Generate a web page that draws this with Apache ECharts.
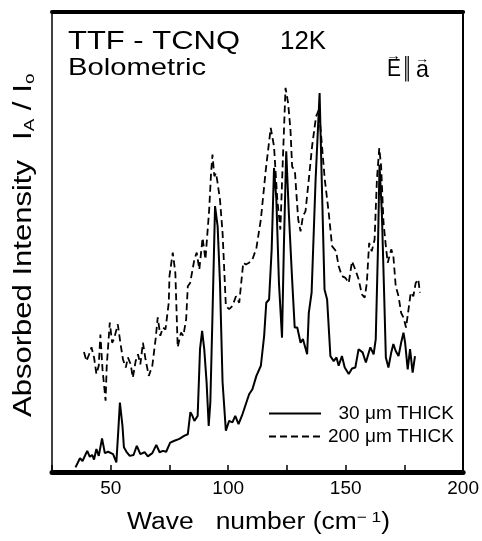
<!DOCTYPE html>
<html><head><meta charset="utf-8">
<script src="https://cdn.jsdelivr.net/npm/echarts@6/dist/echarts.min.js"></script>
<style>html,body{margin:0;padding:0;background:#fff}#c{width:482px;height:541px}</style>
</head><body><div id="c"></div>
<script>
// ---- data (wave number in cm^-1, absorbed intensity in arbitrary units 0-100) ----
const solidX = [35.0,36.9,38.0,40.0,41.1,42.1,42.9,43.9,44.9,46.3,47.5,48.9,51.0,52.4,53.3,53.9,55.0,55.6,56.7,58.1,59.7,61.1,62.6,64.4,65.8,67.7,69.4,70.8,72.2,73.6,75.3,77.1,79.2,81.4,82.8,83.9,84.6,85.6,87.0,88.0,88.9,89.8,90.8,91.7,92.4,93.3,94.4,95.5,96.5,97.6,99.0,100.4,101.8,103.0,104.4,106.1,108.9,110.3,112.0,113.9,115.3,116.2,117.4,118.5,119.5,120.5,121.6,122.9,123.7,124.7,125.8,127.2,128.3,129.4,130.8,131.8,133.6,134.3,135.5,137.2,138.9,139.7,141.0,142.1,143.5,144.9,146.1,147.0,148.4,149.6,151.3,152.7,154.1,155.5,157.2,158.6,160.5,161.9,162.8,163.7,164.4,165.4,166.4,167.1,168.2,169.4,170.3,171.3,172.5,173.6,174.6,175.3,176.4,177.4,178.5,179.5];
const solidY = [1.0,3.0,2.4,4.6,3.3,3.7,2.7,5.0,3.5,7.3,4.1,4.4,3.9,2.1,9.7,15.1,10.0,5.4,4.4,3.5,3.7,5.7,3.9,4.3,3.4,4.1,5.9,4.3,4.6,4.4,6.4,6.8,7.2,7.9,8.2,13.0,12.4,11.1,12.2,26.7,30.7,26.7,19.5,10.0,15.2,33.9,57.8,53.4,41.1,19.5,9.0,11.1,10.8,12.2,10.4,12.6,16.9,18.0,20.9,23.1,29.6,36.8,37.5,48.4,66.1,59.2,41.1,29.2,49.1,69.7,56.3,41.9,31.4,31.4,28.1,28.9,25.6,34.6,39.0,63.6,82.4,65.7,39.7,37.5,25.2,24.1,24.9,23.1,25.2,22.7,21.3,22.5,22.7,26.7,26.0,23.8,27.1,25.6,28.9,47.7,66.8,56.3,38.2,24.9,22.7,26.0,27.8,26.3,25.2,28.1,30.3,28.1,22.3,26.7,21.6,25.2];
const dashX = [38.6,39.7,40.8,41.8,42.9,43.9,44.9,45.6,46.5,47.2,47.8,48.3,48.9,49.6,50.6,51.4,52.1,53.0,54.1,55.2,56.4,57.3,58.5,59.4,60.6,61.6,62.6,63.7,64.8,66.2,67.7,69.1,70.0,71.1,72.2,73.3,74.0,74.7,75.0,76.4,77.5,78.5,79.9,80.9,82.1,82.8,83.8,85.6,86.6,87.7,89.1,90.3,91.9,92.7,93.3,94.1,94.8,95.5,96.5,97.6,99.0,100.4,101.8,103.3,104.7,106.4,107.5,108.9,110.3,112.0,113.9,116.0,118.1,119.5,120.9,122.2,123.1,124.4,125.5,126.5,127.2,128.4,128.9,129.8,130.8,131.8,132.9,134.3,135.7,137.4,138.6,139.7,141.1,142.8,144.2,145.9,147.0,148.4,149.9,151.3,152.7,154.1,155.5,156.9,158.1,159.0,160.0,161.1,162.3,163.3,164.3,165.1,166.1,167.1,167.9,169.4,170.3,171.3,172.5,173.6,174.6,175.7,176.7,177.7,178.8,179.8,180.9,181.6];
const dashY = [26.1,24.1,25.6,27.1,24.9,21.3,23.1,29.9,22.3,18.7,15.5,23.1,27.4,32.5,28.1,28.9,30.3,32.1,28.1,24.5,22.7,24.9,23.4,20.5,24.1,25.6,23.4,28.1,24.5,20.9,23.1,28.9,33.6,29.6,31.4,31.0,33.9,36.8,42.6,47.7,43.3,27.1,30.3,29.6,33.2,40.4,41.1,46.2,47.7,44.0,50.9,46.2,57.0,65.0,69.0,64.3,65.0,62.8,59.2,52.0,36.1,35.4,36.1,38.2,36.8,45.5,45.1,45.5,46.2,48.7,54.9,65.7,74.8,70.8,59.2,52.7,65.7,83.5,80.2,74.4,66.4,65.4,61.4,54.9,52.3,55.6,56.7,63.6,70.8,77.3,78.7,72.2,63.6,56.3,49.1,48.0,44.8,42.6,42.2,41.1,45.8,44.0,41.9,38.6,37.9,41.1,49.8,48.0,50.5,63.6,70.4,66.4,54.2,49.1,45.5,48.4,46.9,40.4,38.2,34.6,33.6,31.4,35.2,39.0,38.2,41.1,41.9,39.0];
const xLabelValues = [50, 100, 150, 200];
const seriesNames = ['30 \u03bcm THICK', '200 \u03bcm THICK'];

const FONT = '"Liberation Sans", Arial, Helvetica, sans-serif';
const ctx = document.createElement('canvas').getContext('2d');
function natW(t, fs) { ctx.font = fs + 'px ' + FONT; return ctx.measureText(t).width; }
function label(text, x, y, fs, w, extra) {
  const el = {
    type: 'text', x: x, y: y, scaleX: w / natW(text, fs),
    style: { text: text, fontSize: fs, fontFamily: FONT, fill: '#000', align: 'left', verticalAlign: 'middle' }
  };
  return Object.assign(el, extra || {});
}

const chart = echarts.init(document.getElementById('c'), null, { renderer: 'canvas' });
const solid = solidX.map((x, i) => [x, solidY[i]]);
const dash = dashX.map((x, i) => [x, dashY[i]]);

const graphic = [
  label('TTF - TCNQ', 68, 42, 25, 172),
  label('12K', 280, 42, 25, 46),
  label('Bolometric', 68, 68, 24, 138),
  label('E', 387, 69, 24, 14),
  label('\u2225', 403, 69, 26, 8),
  label('a', 416, 70, 24, 13),
  label('\u2192', 386, 56, 14, 15),
  label('\u2192', 415, 59, 13, 14),
  label('Absorbed Intensity', 24, 417, 25, 257, { rotation: Math.PI / 2 }),
  {
    type: 'text', x: 24, y: 140, rotation: Math.PI / 2, scaleX: 1.25,
    style: {
      text: 'I{s|A} / I{s|o}', fontSize: 25, fontFamily: FONT, fill: '#000', align: 'left', verticalAlign: 'middle',
      rich: { s: { fontSize: 15, fontFamily: FONT, fill: '#000', padding: [12, 0, 0, 0] } }
    }
  },
  {
    type: 'text', x: 127, y: 523, scaleX: 263 / (natW('Wave   number (cm)', 23) + natW('\u2212 1', 15)),
    style: {
      text: 'Wave   number (cm{p|\u2212 1})', fontSize: 23, fontFamily: FONT, fill: '#000', align: 'left', verticalAlign: 'middle',
      rich: { p: { fontSize: 15, fontFamily: FONT, fill: '#000', padding: [0, 0, 11, 0] } }
    }
  }
];

const option = {
  animation: false,
  backgroundColor: '#fff',
  grid: { left: 52, right: 14, top: 12, bottom: 69, containLabel: false },
  xAxis: [
    {
      type: 'value', min: 25, max: 200, interval: 25, position: 'bottom',
      axisLine: { show: true, onZero: false, lineStyle: { color: '#000', width: 5 } },
      axisTick: { show: true, inside: true, length: 7, lineStyle: { color: '#000', width: 1.5 } },
      axisLabel: {
        margin: 7, fontSize: 19, fontFamily: FONT, color: '#000',
        formatter: v => (xLabelValues.indexOf(v) >= 0 ? String(v) : '')
      },
      splitLine: { show: false }
    },
    {
      type: 'value', min: 25, max: 200, position: 'top',
      axisLine: { show: true, onZero: false, lineStyle: { color: '#000', width: 4 } },
      axisTick: { show: false }, axisLabel: { show: false }, splitLine: { show: false }
    }
  ],
  yAxis: [
    {
      type: 'value', min: 0, max: 100, position: 'left',
      axisLine: { show: true, onZero: false, lineStyle: { color: '#000', width: 1.5 } },
      axisTick: { show: false }, axisLabel: { show: false }, splitLine: { show: false }
    },
    {
      type: 'value', min: 0, max: 100, position: 'right',
      axisLine: { show: true, onZero: false, lineStyle: { color: '#000', width: 2 } },
      axisTick: { show: false }, axisLabel: { show: false }, splitLine: { show: false }
    }
  ],
  legend: {
    data: seriesNames, orient: 'vertical', left: 268, top: 404, padding: 0,
    itemWidth: 52, itemHeight: 14, itemGap: 4,
    itemStyle: { opacity: 0 },
    formatter: n => '{t|' + n + '}',
    textStyle: {
      color: '#000', fontSize: 19, fontFamily: FONT,
      rich: { t: { width: 128, align: 'right', fontSize: 19, fontFamily: FONT, color: '#000' } }
    }
  },
  series: [
    {
      name: seriesNames[0], type: 'line', data: solid, symbol: 'none', showSymbol: false,
      lineStyle: { color: '#000', width: 2 }, itemStyle: { color: '#000' }
    },
    {
      name: seriesNames[1], type: 'line', data: dash, symbol: 'none', showSymbol: false,
      lineStyle: { color: '#000', width: 1.8, type: [7, 4] }, itemStyle: { color: '#000' }
    }
  ],
  graphic: graphic
};
chart.setOption(option);
</script>
</body></html>
